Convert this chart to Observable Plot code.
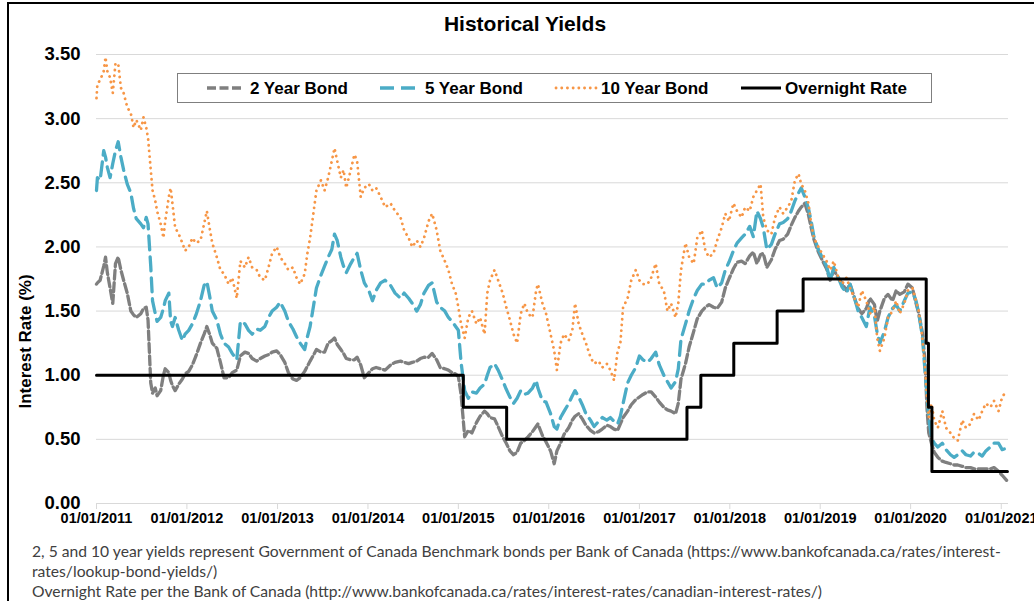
<!DOCTYPE html>
<html>
<head>
<meta charset="utf-8">
<script src="https://cdn.jsdelivr.net/npm/d3@7"></script>
<script src="https://cdn.jsdelivr.net/npm/@observablehq/plot@0.6"></script>
<style>
  html, body { margin: 0; padding: 0; background: #fff; }
  #wrap { position: relative; width: 1034px; height: 601px; overflow: hidden; background: #fff; }
  #chart { position: absolute; left: 0; top: 0; }
  #overlay { position: absolute; left: 0; top: 0; pointer-events: none; }
  #frame { position: absolute; left: 7px; top: 2px; width: 1100px; height: 700px; border: 2px solid #000; pointer-events: none; }
</style>
</head>
<body>
<div id="wrap">
  <div id="chart"></div>
  <div id="overlay"></div>
  <div id="frame"></div>
</div>
<script>
// ---------------- DATA ----------------
const obsTime = [
  2011.00, 2011.01, 2011.04, 2011.08, 2011.10, 2011.12, 2011.15, 2011.18, 2011.21, 2011.24, 2011.27, 2011.30,
  2011.34, 2011.38, 2011.41, 2011.44, 2011.49, 2011.52, 2011.55, 2011.57, 2011.60, 2011.62, 2011.65, 2011.67,
  2011.71, 2011.74, 2011.76, 2011.80, 2011.82, 2011.84, 2011.87, 2011.91, 2011.95, 2011.98, 2012.02, 2012.06,
  2012.10, 2012.15, 2012.19, 2012.22, 2012.25, 2012.28, 2012.33, 2012.37, 2012.41, 2012.46, 2012.50, 2012.55,
  2012.59, 2012.64, 2012.68, 2012.72, 2012.77, 2012.81, 2012.86, 2012.90, 2012.94, 2012.99, 2013.03, 2013.08,
  2013.12, 2013.17, 2013.21, 2013.25, 2013.30, 2013.33, 2013.36, 2013.40, 2013.43, 2013.48, 2013.52, 2013.56,
  2013.60, 2013.63, 2013.66, 2013.70, 2013.73, 2013.76, 2013.81, 2013.85, 2013.88, 2013.92, 2013.96, 2014.01,
  2014.05, 2014.09, 2014.14, 2014.19, 2014.25, 2014.30, 2014.36, 2014.40, 2014.45, 2014.49, 2014.54, 2014.58,
  2014.62, 2014.67, 2014.71, 2014.76, 2014.80, 2014.85, 2014.89, 2014.93, 2014.97, 2015.00, 2015.03, 2015.07,
  2015.11, 2015.15, 2015.20, 2015.24, 2015.29, 2015.32, 2015.35, 2015.40, 2015.44, 2015.49, 2015.53, 2015.57,
  2015.61, 2015.65, 2015.69, 2015.73, 2015.77, 2015.82, 2015.86, 2015.88, 2015.93, 2015.97, 2016.02, 2016.06,
  2016.09, 2016.13, 2016.17, 2016.22, 2016.26, 2016.29, 2016.33, 2016.37, 2016.41, 2016.46, 2016.50, 2016.55,
  2016.59, 2016.64, 2016.68, 2016.72, 2016.76, 2016.79, 2016.82, 2016.87, 2016.91, 2016.96, 2017.00, 2017.04,
  2017.09, 2017.13, 2017.18, 2017.22, 2017.27, 2017.31, 2017.35, 2017.40, 2017.43, 2017.46, 2017.51, 2017.55,
  2017.60, 2017.64, 2017.69, 2017.73, 2017.77, 2017.82, 2017.86, 2017.91, 2017.95, 2017.99, 2018.04, 2018.08,
  2018.13, 2018.17, 2018.22, 2018.26, 2018.30, 2018.34, 2018.37, 2018.41, 2018.46, 2018.50, 2018.55, 2018.59,
  2018.64, 2018.68, 2018.72, 2018.76, 2018.79, 2018.83, 2018.87, 2018.90, 2018.93, 2018.98, 2019.02, 2019.07,
  2019.11, 2019.15, 2019.20, 2019.24, 2019.29, 2019.33, 2019.38, 2019.42, 2019.46, 2019.51, 2019.55, 2019.60,
  2019.63, 2019.66, 2019.71, 2019.75, 2019.80, 2019.84, 2019.88, 2019.93, 2019.97, 2020.02, 2020.06, 2020.09,
  2020.13, 2020.16, 2020.18, 2020.20, 2020.23, 2020.26, 2020.30, 2020.35, 2020.39, 2020.44, 2020.48, 2020.52,
  2020.57, 2020.61, 2020.66, 2020.70, 2020.75, 2020.79, 2020.83, 2020.88, 2020.92, 2020.97, 2021.01, 2021.06
];

const bond2y = [
  1.71, 1.72, 1.74, 1.85, 1.92, 1.80, 1.68, 1.56, 1.87, 1.92, 1.82, 1.74,
  1.64, 1.50, 1.47, 1.45, 1.48, 1.52, 1.53, 1.43, 0.94, 0.86, 0.90, 0.84,
  0.88, 1.00, 1.05, 1.02, 0.96, 0.92, 0.88, 0.93, 0.97, 1.01, 1.03, 1.08,
  1.15, 1.25, 1.32, 1.38, 1.32, 1.25, 1.21, 1.10, 0.98, 0.98, 1.02, 1.04,
  1.15, 1.18, 1.17, 1.13, 1.11, 1.13, 1.15, 1.16, 1.18, 1.19, 1.16, 1.10,
  1.02, 0.97, 0.96, 0.98, 1.03, 1.07, 1.11, 1.16, 1.20, 1.18, 1.18, 1.25,
  1.27, 1.29, 1.24, 1.20, 1.17, 1.13, 1.12, 1.12, 1.14, 1.08, 0.98, 1.02,
  1.05, 1.06, 1.05, 1.04, 1.08, 1.10, 1.11, 1.10, 1.09, 1.10, 1.11, 1.13,
  1.14, 1.14, 1.17, 1.12, 1.06, 1.05, 1.04, 1.02, 1.01, 0.99, 0.85, 0.52,
  0.57, 0.55, 0.63, 0.68, 0.72, 0.70, 0.67, 0.66, 0.60, 0.52, 0.47, 0.41,
  0.38, 0.40, 0.47, 0.49, 0.52, 0.56, 0.60, 0.62, 0.53, 0.48, 0.41, 0.31,
  0.41, 0.47, 0.54, 0.59, 0.65, 0.68, 0.70, 0.66, 0.61, 0.57, 0.55, 0.56,
  0.58, 0.61, 0.60, 0.58, 0.57, 0.62, 0.67, 0.72, 0.77, 0.81, 0.83, 0.85,
  0.87, 0.87, 0.83, 0.79, 0.75, 0.73, 0.72, 0.70, 0.78, 0.97, 1.09, 1.22,
  1.34, 1.44, 1.50, 1.53, 1.55, 1.53, 1.52, 1.57, 1.68, 1.75, 1.83, 1.88,
  1.89, 1.87, 1.93, 1.96, 1.87, 1.94, 1.95, 1.84, 1.90, 1.98, 2.05, 2.06,
  2.10, 2.17, 2.23, 2.28, 2.31, 2.34, 2.25, 2.15, 2.06, 1.96, 1.90, 1.83,
  1.74, 1.82, 1.76, 1.72, 1.66, 1.71, 1.60, 1.52, 1.48, 1.52, 1.60, 1.55,
  1.42, 1.50, 1.60, 1.63, 1.58, 1.66, 1.63, 1.65, 1.71, 1.68, 1.56, 1.48,
  1.33, 1.10, 0.75, 0.55, 0.47, 0.40, 0.36, 0.33, 0.32, 0.31, 0.30, 0.30,
  0.29, 0.28, 0.28, 0.27, 0.27, 0.27, 0.27, 0.27, 0.28, 0.25, 0.22, 0.18
];

const bond5y = [
  2.44, 2.54, 2.52, 2.75, 2.70, 2.62, 2.54, 2.65, 2.75, 2.82, 2.70, 2.60,
  2.49, 2.42, 2.30, 2.22, 2.18, 2.15, 2.23, 2.18, 1.85, 1.58, 1.48, 1.42,
  1.45, 1.52, 1.58, 1.64, 1.42, 1.38, 1.45, 1.35, 1.27, 1.32, 1.35, 1.40,
  1.47, 1.58, 1.70, 1.73, 1.62, 1.50, 1.43, 1.32, 1.25, 1.22, 1.17, 1.12,
  1.42, 1.40, 1.35, 1.32, 1.36, 1.35, 1.38, 1.45, 1.50, 1.53, 1.57, 1.50,
  1.42, 1.36, 1.30, 1.25, 1.20, 1.30, 1.38, 1.55, 1.68, 1.78, 1.85, 1.92,
  1.98, 2.10, 2.05, 1.92, 1.85, 1.80, 1.87, 1.92, 1.95, 1.82, 1.72, 1.66,
  1.58, 1.66, 1.72, 1.74, 1.70, 1.64, 1.60, 1.64, 1.60, 1.56, 1.50, 1.55,
  1.64, 1.70, 1.72, 1.57, 1.53, 1.50, 1.45, 1.42, 1.38, 1.35, 1.10, 0.88,
  0.82, 0.87, 0.86, 0.90, 0.93, 1.00, 1.06, 1.09, 1.04, 0.96, 0.89, 0.83,
  0.78, 0.82, 0.88, 0.85, 0.86, 0.90, 0.96, 0.90, 0.80, 0.79, 0.70, 0.60,
  0.58, 0.67, 0.72, 0.78, 0.84, 0.88, 0.83, 0.77, 0.70, 0.65, 0.60, 0.64,
  0.67, 0.65, 0.67, 0.64, 0.62, 0.68, 0.78, 0.94, 1.00, 1.06, 1.15, 1.12,
  1.10, 1.13, 1.18, 1.08, 1.00, 0.95, 0.90, 0.95, 1.05, 1.28, 1.40, 1.50,
  1.60, 1.66, 1.71, 1.71, 1.74, 1.76, 1.68, 1.72, 1.82, 1.88, 1.97, 2.03,
  2.07, 2.10, 2.16, 2.08, 2.28, 2.22, 2.15, 1.98, 2.02, 2.10, 2.18, 2.19,
  2.22, 2.28, 2.36, 2.42, 2.46, 2.39, 2.30, 2.20, 2.08, 1.98, 1.92, 1.85,
  1.74, 1.84, 1.76, 1.69, 1.64, 1.71, 1.60, 1.50, 1.45, 1.38, 1.53, 1.46,
  1.33, 1.25, 1.34, 1.45, 1.52, 1.55, 1.50, 1.58, 1.64, 1.65, 1.58, 1.48,
  1.30, 1.02, 0.85, 0.67, 0.52, 0.47, 0.44, 0.47, 0.42, 0.38, 0.36, 0.38,
  0.41, 0.38, 0.37, 0.40, 0.39, 0.37, 0.41, 0.44, 0.47, 0.47, 0.42, 0.43
];

const bond10y = [
  3.16, 3.27, 3.30, 3.37, 3.48, 3.37, 3.32, 3.20, 3.43, 3.43, 3.24, 3.20,
  3.09, 3.04, 2.93, 2.99, 2.91, 3.01, 2.93, 2.85, 2.60, 2.44, 2.36, 2.28,
  2.18, 2.07, 2.20, 2.39, 2.46, 2.34, 2.15, 2.10, 2.03, 1.97, 2.00, 2.07,
  2.03, 2.05, 2.18, 2.28, 2.15, 2.03, 1.92, 1.82, 1.79, 1.71, 1.76, 1.60,
  1.89, 1.84, 1.92, 1.84, 1.82, 1.76, 1.74, 1.84, 1.95, 2.00, 1.92, 1.87,
  1.82, 1.84, 1.76, 1.71, 1.79, 1.95, 2.07, 2.28, 2.44, 2.52, 2.44, 2.54,
  2.67, 2.77, 2.67, 2.54, 2.60, 2.46, 2.60, 2.72, 2.67, 2.39, 2.46, 2.49,
  2.44, 2.46, 2.39, 2.31, 2.34, 2.28, 2.23, 2.13, 2.07, 2.00, 2.05, 2.00,
  2.07, 2.20, 2.26, 2.13, 1.97, 1.89, 1.82, 1.71, 1.64, 1.53, 1.40, 1.29,
  1.45, 1.50, 1.40, 1.45, 1.32, 1.64, 1.74, 1.82, 1.74, 1.64, 1.53, 1.43,
  1.32, 1.25, 1.48, 1.56, 1.48, 1.45, 1.66, 1.71, 1.56, 1.48, 1.32, 1.19,
  1.04, 1.25, 1.32, 1.27, 1.35, 1.56, 1.40, 1.32, 1.25, 1.14, 1.09, 1.11,
  1.06, 1.09, 1.04, 0.96, 1.19, 1.25, 1.53, 1.60, 1.74, 1.82, 1.74, 1.71,
  1.71, 1.76, 1.87, 1.71, 1.66, 1.50, 1.56, 1.45, 1.56, 1.82, 2.03, 1.92,
  1.87, 2.07, 2.13, 1.97, 1.92, 1.95, 2.05, 2.15, 2.26, 2.20, 2.34, 2.28,
  2.23, 2.31, 2.28, 2.39, 2.44, 2.49, 2.23, 2.13, 2.10, 2.23, 2.31, 2.26,
  2.31, 2.36, 2.52, 2.57, 2.49, 2.44, 2.34, 2.18, 2.07, 2.00, 1.95, 1.89,
  1.82, 1.89, 1.76, 1.71, 1.76, 1.68, 1.60, 1.53, 1.66, 1.58, 1.48, 1.53,
  1.29, 1.19, 1.29, 1.45, 1.50, 1.58, 1.48, 1.56, 1.66, 1.68, 1.58, 1.50,
  1.29, 1.04, 0.83, 0.67, 0.78, 0.65, 0.59, 0.72, 0.59, 0.55, 0.51, 0.49,
  0.65, 0.59, 0.62, 0.70, 0.65, 0.72, 0.78, 0.75, 0.80, 0.72, 0.83, 0.88
];

// Bank of Canada overnight rate: change dates and new levels
const overnightDates = [
  "2011-01-01", "2015-01-21", "2015-07-15", "2017-07-12", "2017-09-06", "2018-01-17",
  "2018-07-11", "2018-10-24", "2020-03-04", "2020-03-13", "2020-03-27", "2021-01-26"
];
const overnightRates = [1.00, 0.75, 0.50, 0.75, 1.00, 1.25, 1.50, 1.75, 1.25, 0.75, 0.25, 0.25];

const seriesNames = ["2 Year Bond", "5 Year Bond", "10 Year Bond", "Overnight Rate"];
const yTickValues = [0.00, 0.50, 1.00, 1.50, 2.00, 2.50, 3.00, 3.50];
const xTickYears = [2011, 2012, 2013, 2014, 2015, 2016, 2017, 2018, 2019, 2020, 2021];

const titleText = "Historical Yields";
const yLabelText = "Interest Rate (%)";
const captionLines = [
  "2, 5 and 10 year yields represent Government of Canada Benchmark bonds per Bank of Canada (https://www.bankofcanada.ca/rates/interest-",
  "rates/lookup-bond-yields/)",
  "Overnight Rate per the Bank of Canada (http://www.bankofcanada.ca/rates/interest-rates/canadian-interest-rates/)"
];

// ---------------- BUILD ----------------
function toDate(t) {
  const y = Math.floor(t + 1e-9);
  const a = Date.UTC(y, 0, 1), b = Date.UTC(y + 1, 0, 1);
  return new Date(a + (t - y) * (b - a));
}
const n = Math.min(obsTime.length, bond2y.length, bond5y.length, bond10y.length);
const rows = d3.range(n).map(i => ({date: toDate(obsTime[i]), v2: bond2y[i], v5: bond5y[i], v10: bond10y[i]}));
const onRows = overnightDates.map((d, i) => ({date: new Date(d + "T00:00:00Z"), rate: overnightRates[i]}));

const colors = ["#7f7f7f", "#4bacc6", "#f79646", "#000000"];
const dashes = ["9,3.5", "14,7", "0.1,5.6", null];
const widths = [3.3, 3.3, 2.8, 3];
const caps = ["butt", "butt", "round", "butt"];

const FONT = "'Liberation Sans', Arial, Helvetica, sans-serif";

const chart = Plot.plot({
  width: 1034,
  height: 535,
  marginLeft: 96,
  marginRight: 26,
  marginTop: 54,
  marginBottom: 32,
  style: {background: "transparent", fontFamily: FONT, color: "#000", overflow: "visible"},
  x: {type: "utc", domain: [toDate(2011.0), toDate(2021.08)]},
  y: {domain: [0, 3.5]},
  marks: [
    Plot.gridY({ticks: yTickValues, stroke: "#d9d9d9", strokeOpacity: 1, strokeWidth: 1}),
    Plot.axisY({ticks: yTickValues, tickSize: 0, tickPadding: 16, tickFormat: d => d.toFixed(2),
                fontSize: 18.5, fontWeight: "bold", label: null}),
    Plot.axisX({ticks: xTickYears.map(y => new Date(Date.UTC(y, 0, 1))), tickSize: 6, tickPadding: 3,
                stroke: "#d9d9d9", strokeOpacity: 1, fill: "#000",
                tickFormat: d => "01/01/" + d.getUTCFullYear(), fontSize: 14.5, fontWeight: "bold", label: null}),
    Plot.line(rows, {x: "date", y: "v2", stroke: colors[0], strokeWidth: widths[0], strokeDasharray: dashes[0], strokeLinejoin: "round"}),
    Plot.line(rows, {x: "date", y: "v5", stroke: colors[1], strokeWidth: widths[1], strokeDasharray: dashes[1], strokeLinejoin: "round"}),
    Plot.line(rows, {x: "date", y: "v10", stroke: colors[2], strokeWidth: widths[2], strokeDasharray: dashes[2], strokeLinecap: "round", strokeLinejoin: "round"}),
    Plot.line(onRows, {x: "date", y: "rate", stroke: colors[3], strokeWidth: widths[3], curve: "step-after"})
  ]
});
document.getElementById("chart").appendChild(chart);

// ---------------- OVERLAY: title, y label, legend, caption ----------------
const ov = d3.select("#overlay").append("svg")
  .attr("width", 1034).attr("height", 601)
  .style("font-family", FONT);

ov.append("text").attr("x", 525).attr("y", 31).attr("text-anchor", "middle")
  .attr("font-size", 21).attr("font-weight", "bold").attr("fill", "#000").text(titleText);

ov.append("text").attr("transform", "translate(31,341.5) rotate(-90)").attr("text-anchor", "middle")
  .attr("font-size", 17).attr("font-weight", "bold").attr("fill", "#000").text(yLabelText);

// legend
const lg = ov.append("g");
lg.append("rect").attr("x", 177.5).attr("y", 73.5).attr("width", 754).attr("height", 29)
  .attr("fill", "#fff").attr("stroke", "#7f7f7f").attr("stroke-width", 1);
const legendSlots = [[207, 241, 250], [380, 415, 425], [556, 597, 601], [741, 781, 785]];
seriesNames.forEach((name, i) => {
  const [x1, x2, tx] = legendSlots[i];
  const ln = lg.append("line").attr("x1", x1).attr("x2", x2).attr("y1", 88).attr("y2", 88)
    .attr("stroke", colors[i]).attr("stroke-width", widths[i]).attr("stroke-linecap", caps[i]);
  if (dashes[i]) ln.attr("stroke-dasharray", dashes[i]);
  lg.append("text").attr("x", tx).attr("y", 94).attr("font-size", 17).attr("font-weight", "bold")
    .attr("fill", "#000").text(name);
});

// caption
const capG = ov.append("g").style("font-family", "Lato, 'Open Sans', sans-serif").attr("fill", "#404040");
const capBase = [557, 577, 597];
const capNodes = captionLines.map((s, i) =>
  capG.append("text").attr("x", 32).attr("y", capBase[i]).attr("font-size", 15).text(s));
const w0 = capNodes[0].node().getComputedTextLength();
const fs = 15 * 969 / w0;
capNodes.forEach(t => t.attr("font-size", fs));
</script>
</body>
</html>
